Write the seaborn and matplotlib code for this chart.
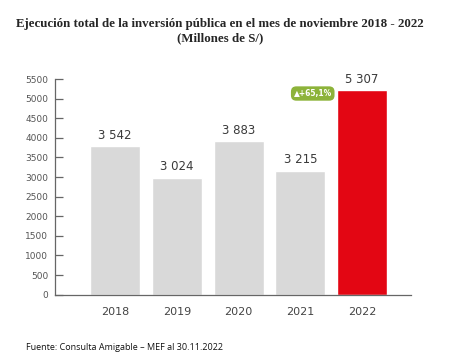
import pandas as pd
import seaborn as sns
import matplotlib
import matplotlib.pyplot as plt

matplotlib.use('Agg')

years = ['2018', '2019', '2020', '2021', '2022']
heights = [3792, 2984, 3919, 3162, 5220]
value_labels = ['3 542', '3 024', '3 883', '3 215', '5 307']
bar_colors = ['#d9d9d9', '#d9d9d9', '#d9d9d9', '#d9d9d9', '#e30613']
yticks = list(range(0, 5501, 500))
badge_text = '\u25b2+65,1%'

sns.set_style('white')
plt.rcParams['font.family'] = ['DejaVu Sans']

df = pd.DataFrame({'year': years, 'value': heights})

fig = plt.figure(figsize=(4.63, 3.54), dpi=100)
ax = fig.add_axes([0.1188, 0.1675, 0.7689, 0.6093])

sns.barplot(data=df, x='year', y='value', hue='year', palette=bar_colors,
            legend=False, width=0.81, saturation=1, ax=ax)

# value labels above each bar
for i, (h, lab) in enumerate(zip(heights, value_labels)):
    ax.text(i, h + 110, lab, ha='center', va='bottom', fontsize=8.5,
            color='#3a3a3a', clip_on=False)

# growth badge next to the 2022 bar
ax.text(3.2, 5130, badge_text, ha='center', va='center', fontsize=5.5,
        color='white', fontweight='bold',
        bbox=dict(boxstyle='round,pad=0.35,rounding_size=0.7', fc='#8db33a', ec='none'))

ax.set(xlabel='', ylabel='', xlim=(-0.97, 4.79), ylim=(0, 5500), yticks=yticks)
ax.set_yticklabels([str(t) for t in yticks])
for s in ['top', 'right']:
    ax.spines[s].set_visible(False)
for s in ['left', 'bottom']:
    ax.spines[s].set_color('#666666')
    ax.spines[s].set_linewidth(0.9)
ax.yaxis.set_tick_params(direction='in', length=6, width=0.9, color='#666666',
                         labelsize=6.5, labelcolor='#555555', pad=5, left=True)
ax.xaxis.set_tick_params(length=0, labelsize=8, labelcolor='#444444', pad=9)

fig.text(0.475, 0.932, 'Ejecución total de la inversión pública en el mes de noviembre 2018 - 2022',
         ha='center', va='center', fontsize=9.3, fontweight='bold', family='Liberation Serif')
fig.text(0.475, 0.893, '(Millones de S/)', ha='center', va='center', fontsize=9.3,
         fontweight='bold', family='Liberation Serif')
fig.text(0.056, 0.018, 'Fuente: Consulta Amigable \u2013 MEF al 30.11.2022', ha='left',
         va='center', fontsize=6.5, family='Open Sans', color='#111111')

fig.savefig('out.png', dpi=100)
